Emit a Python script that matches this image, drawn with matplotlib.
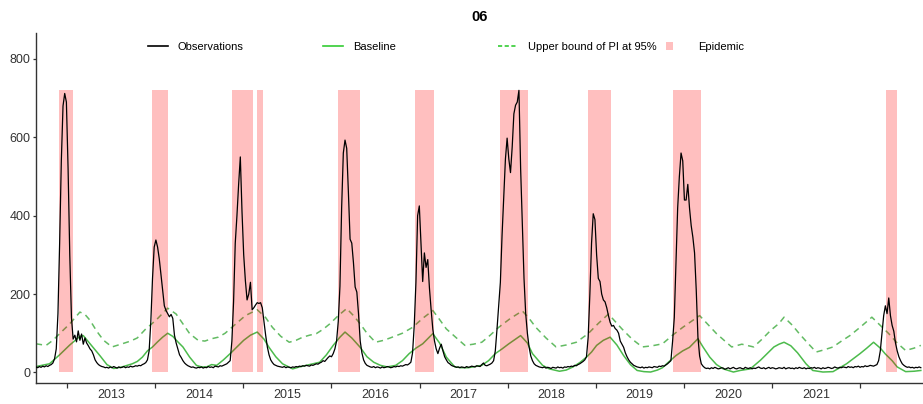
import matplotlib
matplotlib.use("Agg")
import matplotlib.pyplot as plt
import matplotlib.dates as mdates
from matplotlib.lines import Line2D
from matplotlib.patches import Patch
from matplotlib.ticker import FixedLocator
import pandas as pd

plt.rcParams['font.family'] = ['Liberation Sans', 'DejaVu Sans']

# weekly observations, starting 2012-08-25 (10 weeks per row)
obs = [
    14, 12, 15, 13, 16, 14, 17, 15, 18, 20,
    24, 35, 60, 150, 330, 540, 680, 712, 690, 520,
    300, 140, 85, 95, 78, 106, 82, 98, 72, 88,
    75, 68, 60, 55, 45, 32, 25, 20, 17, 15,
    14, 12, 13, 11, 14, 12, 15, 13, 11, 14,
    12, 13, 15, 12, 14, 13, 16, 14, 15, 17,
    16, 18, 17, 20, 22, 25, 32, 55, 130, 240,
    320, 338, 320, 290, 250, 210, 170, 158, 150, 142,
    148, 138, 95, 75, 60, 45, 38, 30, 24, 20,
    17, 15, 13, 14, 12, 11, 13, 12, 14, 11,
    13, 12, 15, 13, 14, 12, 16, 15, 14, 17,
    16, 18, 20, 22, 26, 30, 80, 180, 330, 400,
    480, 550, 410, 300, 234, 185, 200, 230, 160, 165,
    172, 178, 176, 178, 165, 130, 95, 65, 45, 32,
    25, 20, 18, 16, 15, 14, 13, 15, 12, 14,
    13, 12, 14, 13, 15, 14, 16, 15, 17, 16,
    18, 17, 16, 19, 18, 20, 22, 21, 24, 26,
    30, 28, 33, 38, 42, 40, 48, 60, 80, 130,
    220, 420, 560, 593, 572, 460, 340, 330, 280, 218,
    205, 150, 80, 50, 32, 23, 18, 16, 14, 13,
    15, 12, 14, 13, 11, 14, 12, 13, 15, 14,
    12, 13, 15, 14, 16, 15, 17, 16, 18, 20,
    19, 22, 26, 50, 120, 230, 400, 425, 330, 232,
    305, 268, 288, 215, 160, 110, 80, 60, 48, 62,
    72, 55, 40, 32, 25, 22, 18, 16, 15, 13,
    14, 12, 14, 13, 12, 15, 13, 14, 16, 15,
    14, 17, 16, 15, 20, 24, 18, 17, 19, 21,
    24, 30, 55, 110, 170, 230, 350, 450, 545, 598,
    545, 510, 575, 660, 682, 690, 720, 520, 380, 240,
    150, 100, 65, 42, 30, 22, 18, 16, 14, 13,
    12, 14, 11, 13, 12, 10, 13, 12, 11, 14,
    12, 13, 11, 14, 13, 15, 14, 16, 15, 18,
    17, 20, 22, 25, 28, 32, 40, 90, 200, 330,
    405, 390, 300, 240, 232, 200, 185, 180, 165, 145,
    128, 118, 120, 112, 108, 100, 80, 72, 64, 50,
    40, 32, 26, 22, 18, 16, 14, 13, 12, 14,
    11, 13, 12, 14, 13, 12, 15, 14, 13, 16,
    15, 17, 16, 19, 22, 26, 30, 80, 140, 280,
    420, 500, 560, 540, 440, 440, 480, 420, 375, 345,
    305, 210, 90, 42, 22, 16, 12, 10, 11, 9,
    12, 10, 13, 11, 9, 10, 12, 11, 8, 10,
    12, 9, 11, 13, 10, 9, 11, 12, 10, 9,
    13, 11, 10, 12, 9, 11, 10, 12, 14, 11,
    10, 12, 9, 11, 13, 10, 12, 11, 9, 10,
    12, 11, 10, 13, 9, 11, 12, 10, 11, 9,
    12, 10, 13, 11, 10, 12, 9, 11, 10, 12,
    11, 13, 10, 12, 11, 9, 12, 10, 11, 13,
    12, 10, 11, 14, 12, 11, 13, 12, 14, 13,
    12, 15, 13, 14, 12, 15, 14, 16, 13, 15,
    14, 17, 15, 16, 18, 17, 16, 18, 20, 30,
    55, 100, 145, 170, 150, 190, 145, 120, 105, 75,
    55, 40, 30, 22, 18, 15, 13, 14, 12, 13,
    11, 13, 12, 14, 12,
]

# baseline (weeks since start, value)
base_week = [0, 8, 14, 20, 26, 28, 33, 38, 42, 46, 51, 57, 60, 63, 66, 69, 72, 75, 78, 81,
             84, 87, 91, 95, 98, 101, 104, 107, 111, 115, 119, 123, 127, 131, 135, 138, 142, 146, 152, 156,
             160, 164, 168, 172, 176, 180, 183, 187, 192, 196, 200, 204, 208, 213, 217, 221, 225, 229, 232, 235,
             239, 243, 248, 252, 256, 260, 264, 268, 272, 276, 280, 284, 287, 291, 294, 300, 304, 310, 314, 318,
             322, 326, 329, 332, 336, 340, 344, 348, 352, 356, 360, 364, 368, 371, 375, 379, 383, 387, 392, 395,
             399, 403, 407, 413, 417, 423, 426, 429, 433, 437, 440, 443, 447, 451, 456, 460, 466, 472, 476, 480,
             484, 488, 492, 496, 500, 503, 507, 510, 515, 520, 524]
base_val = [15, 22, 45, 70, 92, 94, 68, 42, 20, 10, 14, 22, 28, 39, 55, 65, 78, 90, 100, 92,
            78, 65, 39, 18, 14, 14, 20, 18, 32, 48, 65, 82, 95, 103, 85, 64, 40, 22, 9, 14,
            18, 22, 26, 45, 69, 90, 103, 88, 64, 40, 26, 18, 14, 18, 30, 48, 62, 73, 86, 99,
            75, 39, 14, 12, 12, 15, 18, 30, 48, 60, 73, 85, 94, 75, 48, 18, 9, 3, 6, 14,
            25, 39, 52, 69, 82, 90, 70, 43, 20, 5, 2, 1, 6, 12, 28, 43, 55, 64, 86, 65,
            39, 20, 9, 1, 5, 9, 20, 31, 48, 65, 72, 77, 68, 50, 22, 5, 1, 2, 12, 22,
            35, 48, 62, 77, 62, 47, 30, 14, 2, 3, 5]

# upper bound of the 95% prediction interval
upper_week = [0, 6, 10, 14, 20, 26, 29, 32, 36, 40, 45, 51, 56, 60, 65, 71, 78, 83, 87, 91,
              96, 100, 104, 108, 112, 116, 120, 124, 131, 136, 140, 145, 150, 154, 158, 162, 166, 170, 174, 179,
              184, 188, 192, 196, 201, 206, 211, 217, 223, 229, 235, 239, 243, 249, 254, 259, 264, 269, 274, 281,
              288, 292, 296, 302, 308, 314, 320, 327, 333, 339, 343, 347, 353, 359, 365, 371, 377, 383, 388, 393,
              398, 403, 408, 412, 418, 425, 430, 435, 440, 443, 448, 452, 457, 462, 467, 472, 477, 482, 488, 495,
              500, 505, 510, 515, 520, 524]
upper_val = [73, 69, 82, 99, 124, 154, 148, 133, 105, 82, 65, 73, 80, 88, 111, 133, 164, 149, 124, 99,
             82, 80, 86, 90, 100, 115, 130, 145, 160, 140, 115, 92, 77, 82, 90, 95, 99, 110, 124, 145,
             163, 145, 124, 100, 77, 82, 90, 100, 115, 138, 158, 135, 111, 88, 69, 72, 77, 95, 115, 138,
             157, 138, 115, 88, 65, 70, 77, 99, 125, 149, 130, 111, 85, 65, 68, 73, 95, 115, 130, 145,
             122, 99, 80, 65, 72, 65, 85, 107, 125, 141, 120, 99, 75, 52, 58, 65, 80, 94, 115, 141,
             120, 99, 75, 56, 62, 69]

# epidemic periods
epi_start = ['2012-11-28', '2013-12-20', '2014-11-17', '2015-02-28', '2016-01-29',
             '2016-12-12', '2017-12-02', '2018-12-02', '2019-11-18', '2022-04-18']
epi_end = ['2013-01-24', '2014-02-25', '2015-02-10', '2015-03-26', '2016-04-29',
           '2017-03-01', '2018-03-28', '2019-03-06', '2020-03-12', '2022-06-03']

year_labels = [2013, 2014, 2015, 2016, 2017, 2018, 2019, 2020, 2021]

start = pd.Timestamp('2012-08-25')
dates = pd.date_range(start, periods=len(obs), freq='7D')
base_dates = start + pd.to_timedelta([w * 7 for w in base_week], unit='D')
upper_dates = start + pd.to_timedelta([w * 7 for w in upper_week], unit='D')

green = '#4cbb4c'
green2 = '#63bb63'
red_a = 0.25

fig = plt.figure(figsize=(9.23, 4.04), dpi=100)
ax = fig.add_axes([0.039, 0.052, 0.961, 0.866])

ax.plot(base_dates, base_val, color=green, lw=1.1, zorder=1)
ax.plot(upper_dates, upper_val, color=green2, lw=1.1, dashes=(4, 3), zorder=1)

# bands span the observed range; drawn over the green curves
lo, hi = 0, max(obs)
for s, e in zip(epi_start, epi_end):
    ax.fill_between([pd.Timestamp(s), pd.Timestamp(e)], lo, hi, color='red', alpha=red_a, lw=0, zorder=2)

ax.plot(dates, obs, color='black', lw=0.9, zorder=3)

ax.set_xlim(start, pd.Timestamp('2022-09-19'))
ax.set_ylim(-27, 866)
ax.set_yticks([0, 200, 400, 600, 800])

# ticks at year boundaries, labels in the middle of each year
ax.xaxis.set_major_locator(mdates.YearLocator())
ax.xaxis.set_major_formatter(plt.NullFormatter())
mid_years = [mdates.date2num(pd.Timestamp(f'{y}-07-02')) for y in year_labels]
ax.xaxis.set_minor_locator(FixedLocator(mid_years))
ax.xaxis.set_minor_formatter(mdates.DateFormatter('%Y'))
ax.tick_params(axis='x', which='minor', length=0, pad=4, labelsize=9, labelcolor='#333333')
ax.tick_params(axis='x', which='major', length=3.5, width=0.9, color='#333333')
ax.tick_params(axis='y', length=2.5, width=0.9, pad=1.5, labelsize=9, labelcolor='#333333', color='#333333')

for side in ['top', 'right']:
    ax.spines[side].set_visible(False)
for side in ['left', 'bottom']:
    ax.spines[side].set_color('#333333')
    ax.spines[side].set_linewidth(1.0)

ax.set_title('06', fontweight='bold', fontsize=10.5, pad=9)

# legend entries laid out along the top
handles = [
    Line2D([], [], color='black', lw=1.2),
    Line2D([], [], color='#33cc33', lw=1.2),
    Line2D([], [], color='#33cc33', lw=1.2, dashes=(2.5, 1.5)),
    Patch(facecolor='red', alpha=red_a, lw=0),
]
labels = ['Observations', 'Baseline', 'Upper bound of PI at 95%', 'Epidemic']
xs = [148, 323, 498, 666]
hlen = [1.8, 1.8, 1.8, 0.6]
hpad = [0.9, 0.95, 0.9, 2.25]
for h, lab, x, hl, hp in zip(handles, labels, xs, hlen, hpad):
    fig.legend([h], [lab], loc='center left', bbox_to_anchor=(x / 923, 1 - 47 / 404),
               frameon=False, borderpad=0, borderaxespad=0, fontsize=8,
               handlelength=hl, handleheight=0.8, handletextpad=hp)

fig.savefig('out.png', dpi=100)
